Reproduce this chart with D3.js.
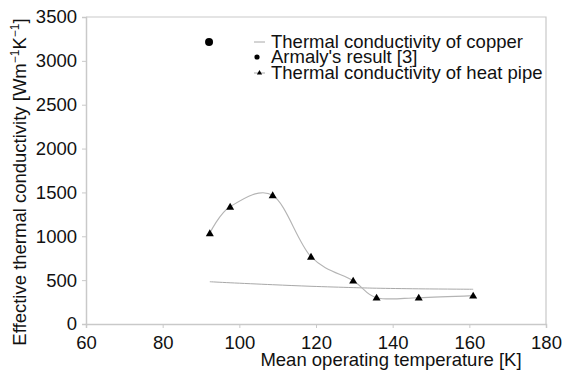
<!DOCTYPE html>
<html>
<head>
<meta charset="utf-8">
<script src="https://cdn.jsdelivr.net/npm/d3@7"></script>
<style>
  body { margin: 0; background: #fff; }
  svg { display: block; font-family: "Liberation Sans", Arial, sans-serif; }
</style>
</head>
<body>
<svg id="chart"></svg>
<script>
// heat pipe measurements
const pipeTemp = [92.3, 97.6, 108.7, 118.7, 129.7, 135.8, 146.8, 161.0];
const pipeK = [1035, 1337, 1467, 767, 494, 300, 300, 323];
// copper reference curve
const copperTemp = [92.3, 97.6, 108.7, 118.7, 129.7, 135.8, 146.8, 161.0];
const copperK = [482, 470, 448, 430, 415, 408, 401, 396];
// Armaly's result
const armalyTemp = [92.1];
const armalyK = [3215];

const xTicks = [60, 80, 100, 120, 140, 160, 180];
const yTicks = [0, 500, 1000, 1500, 2000, 2500, 3000, 3500];
const legendLabels = ["Thermal conductivity of copper", "Armaly's result [3]", "Thermal conductivity of heat pipe"];

const W = 562, H = 372;
const margin = { top: 17, right: 16, bottom: 48, left: 86 };
const width = W - margin.left - margin.right;
const height = H - margin.top - margin.bottom;
const axisGrey = "#c9c9c9";
const fs = 18.5;

const svg = d3.select("#chart").attr("width", W).attr("height", H);

const x = d3.scaleLinear().domain([60, 180]).range([0, width]);
const y = d3.scaleLinear().domain([0, 3500]).range([height, 0]);

const g = svg.append("g").attr("transform", `translate(${margin.left},${margin.top})`);

// frame top / right
g.append("path")
    .attr("d", `M0,0H${width}V${height}`)
    .attr("fill", "none")
    .attr("stroke", axisGrey)
    .attr("stroke-width", 1.2);

const xAxis = g.append("g")
    .attr("transform", `translate(0,${height})`)
    .call(d3.axisBottom(x).tickValues(xTicks).tickFormat(d3.format("d")).tickSize(4).tickPadding(6));
const yAxis = g.append("g")
    .call(d3.axisLeft(y).tickValues(yTicks).tickFormat(d3.format("d")).tickSize(4).tickPadding(5));

[xAxis, yAxis].forEach(a => {
    a.select(".domain").attr("stroke", axisGrey).attr("stroke-width", 1.5);
    a.selectAll(".tick line").attr("stroke", axisGrey);
    a.selectAll("text").attr("fill", "#111").attr("font-size", fs)
        .attr("font-family", "Liberation Sans, Arial, sans-serif");
});
xAxis.selectAll("text").attr("dy", "0.8em");

// axis titles
svg.append("text")
    .attr("x", 391)
    .attr("y", 360)
    .attr("dy", "0.35em")
    .attr("text-anchor", "middle")
    .attr("font-size", fs)
    .attr("fill", "#111")
    .text("Mean operating temperature [K]");

const yTitle = svg.append("text")
    .attr("transform", `translate(20,182) rotate(-90)`)
    .attr("dy", "0.35em")
    .attr("text-anchor", "middle")
    .attr("font-size", fs)
    .attr("fill", "#111");
yTitle.append("tspan").text("Effective thermal conductivity [Wm");
yTitle.append("tspan").attr("dy", -7).attr("font-size", 12).text("\u22121");
yTitle.append("tspan").attr("dy", 7).text("K");
yTitle.append("tspan").attr("dy", -7).attr("font-size", 12).text("\u22121");
yTitle.append("tspan").attr("dy", 7).text("]");

// copper line
const copper = copperTemp.map((t, i) => [t, copperK[i]]);
g.append("path")
    .datum(copper)
    .attr("fill", "none")
    .attr("stroke", "#a8a8a8")
    .attr("stroke-width", 1)
    .attr("d", d3.line().x(d => x(d[0])).y(d => y(d[1])).curve(d3.curveCardinal.tension(0)));

// heat pipe line
const pipe = pipeTemp.map((t, i) => [t, pipeK[i]]);
g.append("path")
    .datum(pipe)
    .attr("fill", "none")
    .attr("stroke", "#b4b4b4")
    .attr("stroke-width", 1.1)
    .attr("d", d3.line().x(d => x(d[0])).y(d => y(d[1])).curve(d3.curveCardinal.tension(0)));

const tri = d3.symbol().type(d3.symbolTriangle).size(28);
g.append("g").selectAll("path")
    .data(pipe)
    .join("path")
    .attr("transform", d => `translate(${x(d[0])},${y(d[1]) + 0.6})`)
    .attr("d", tri)
    .attr("fill", "#000");

// Armaly point
g.append("g").selectAll("circle")
    .data(armalyTemp.map((t, i) => [t, armalyK[i]]))
    .join("circle")
    .attr("cx", d => x(d[0]))
    .attr("cy", d => y(d[1]))
    .attr("r", 4)
    .attr("fill", "#000");

// legend
const lg = svg.append("g").attr("transform", "translate(254,0)");
const rowsY = [42, 57, 73];
lg.selectAll("text")
    .data(legendLabels)
    .join("text")
    .attr("x", 17)
    .attr("y", (d, i) => rowsY[i])
    .attr("dy", "0.35em")
    .attr("font-size", fs)
    .attr("fill", "#111")
    .text(d => d);
lg.append("line").attr("x1", 0).attr("x2", 11).attr("y1", rowsY[0]).attr("y2", rowsY[0])
    .attr("stroke", "#a8a8a8");
lg.append("circle").attr("cx", 3).attr("cy", rowsY[1]).attr("r", 2.6).attr("fill", "#000");
lg.append("line").attr("x1", 0).attr("x2", 11).attr("y1", rowsY[2]).attr("y2", rowsY[2])
    .attr("stroke", "#a8a8a8");
lg.append("path").attr("transform", `translate(5.5,${rowsY[2]})`)
    .attr("d", d3.symbol().type(d3.symbolTriangle).size(12)).attr("fill", "#000");
</script>
</body>
</html>
